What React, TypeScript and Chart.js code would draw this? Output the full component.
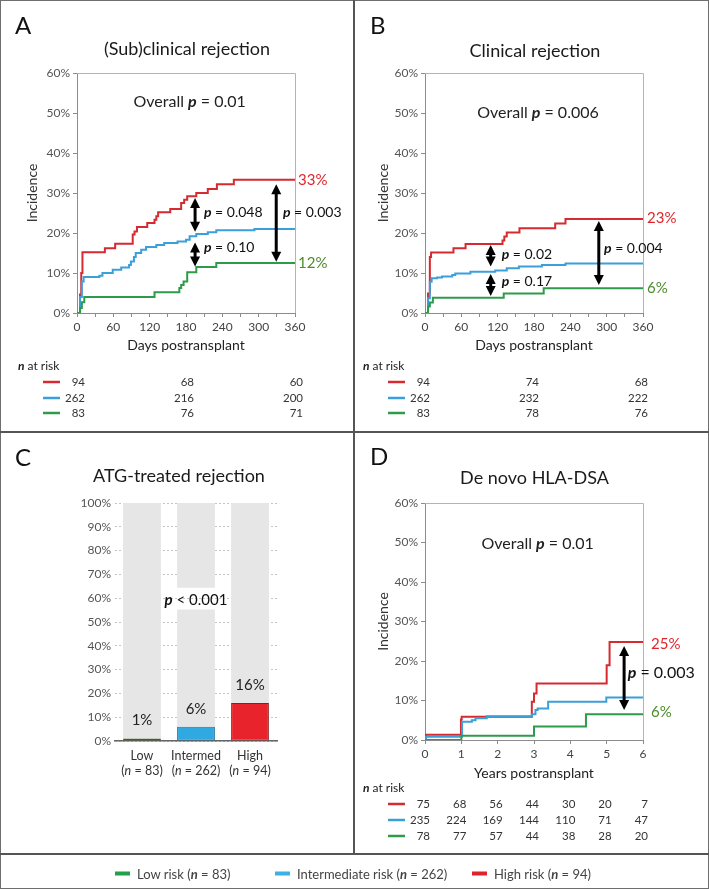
import React, { useEffect, useRef } from 'react';
import { Chart, registerables } from 'chart.js';

Chart.register(...registerables);

const FF = 'Lato, "Open Sans", "DejaVu Sans", sans-serif';

type Pt = [number, number];

// ---------- Panel A: (Sub)clinical rejection — [day, cumulative incidence %] ----------
const A_HIGH: Pt[] = [[0, 0], [3, 0], [5, 4.6], [7, 10], [9, 15.2], [46, 16.2], [63, 17.3], [92, 19.6], [95, 20.4], [99, 21.5], [116, 22.5], [128, 23.3], [131, 24.2], [134, 25.2], [154, 26], [172, 27.5], [177, 28.3], [182, 29.2], [197, 30], [216, 31], [231, 32.2], [259, 33.3], [360, 33.3]];
const A_INTER: Pt[] = [[0, 0], [3, 0], [5, 4], [8, 7.9], [11, 9], [37, 9.3], [42, 10], [59, 10.8], [73, 11.4], [86, 12], [89, 12.9], [94, 14], [97, 15], [106, 15.8], [114, 16.5], [131, 17], [144, 17.5], [166, 17.9], [180, 18.3], [186, 19.2], [197, 19.75], [216, 20.2], [230, 20.7], [293, 21], [360, 21]];
const A_LOW: Pt[] = [[0, 0], [3, 0], [5, 1.25], [8, 2.7], [12, 4], [128, 5.2], [169, 6.25], [172, 7], [176, 7.9], [182, 10.2], [197, 11.5], [230, 12.5], [360, 12.5]];
const A_RISK_DAYS = [0, 180, 360];
const A_RISK_HIGH = [94, 68, 60];
const A_RISK_INTER = [262, 216, 200];
const A_RISK_LOW = [83, 76, 71];

// ---------- Panel B: Clinical rejection ----------
const B_HIGH: Pt[] = [[0, 0], [3, 0], [5, 4.9], [8, 14], [10, 15.1], [47, 16.2], [67, 17.25], [128, 18.1], [131, 19.1], [135, 20.1], [156, 21.2], [215, 22.4], [232, 23.5], [360, 23.5]];
const B_INTER: Pt[] = [[0, 0], [3, 0], [5, 3.7], [8, 7.8], [11, 8.7], [20, 8.9], [28, 9.1], [45, 9.5], [50, 9.9], [75, 10.3], [116, 10.6], [135, 11.2], [155, 11.6], [193, 12], [232, 12.4], [360, 12.4]];
const B_LOW: Pt[] = [[0, 0], [3, 0], [5, 1.6], [8, 2.6], [13, 3.8], [130, 4.9], [196, 6.2], [360, 6.2]];
const B_RISK_DAYS = [0, 180, 360];
const B_RISK_HIGH = [94, 74, 68];
const B_RISK_INTER = [262, 232, 222];
const B_RISK_LOW = [83, 78, 76];

// ---------- Panel C: ATG-treated rejection (%) ----------
const C_GROUPS = ['Low', 'Intermed', 'High'];
const C_NS = [83, 262, 94];
const C_ATG = [1, 6, 16];
const C_REST_LOWER = [99, 49.3, 84];
const C_GAP = [0, 9.1, 0];
const C_REST_UPPER = [0, 35.6, 0];
const C_P_TEXT = ' < 0.001';

// ---------- Panel D: De novo HLA-DSA — [year, cumulative incidence %] ----------
const D_HIGH: Pt[] = [[0, 0], [0.02, 1.3], [0.99, 5.2], [1.01, 5.9], [2.94, 9.7], [3.0, 11.8], [3.07, 14.3], [5.0, 18.9], [5.08, 24.8], [6, 24.8]];
const D_INTER: Pt[] = [[0, 0], [0.03, 0.8], [1.02, 4.6], [1.29, 5], [1.39, 5.5], [1.7, 6], [2.94, 6.5], [3.04, 7.6], [3.1, 8], [3.39, 9.7], [4.99, 10.75], [6, 10.75]];
const D_LOW: Pt[] = [[0, 0], [1.0, 1.1], [3.0, 3.4], [4.43, 6.55], [6, 6.55]];
const D_RISK_YEARS = [0, 1, 2, 3, 4, 5, 6];
const D_RISK_HIGH = [75, 68, 56, 44, 30, 20, 7];
const D_RISK_INTER = [235, 224, 169, 144, 110, 71, 47];
const D_RISK_LOW = [78, 77, 57, 44, 38, 28, 20];

// ---------- Legend ----------
const LEGEND_LABELS = ['Low risk', 'Intermediate risk', 'High risk'];
const LEGEND_N = [83, 262, 94];

// ---------- Colours ----------
const RED = '#d62a31';
const BLUE = '#3b9fda';
const GREEN = '#2e9b4b';
const RED_TXT = '#e0262d';
const GREEN_TXT = '#4c8c2c';
const GREY_BAR = '#e6e6e6';
const C_FILL = ['#6c9a3f', '#2fa9e0', '#e8232b'];
const C_EDGE = ['#3d6124', '#1b6b94', '#8f1b1b'];
const LEG_COLORS = ['#22a04a', '#3cb1e6', '#e0232b'];

type Run = { t: string; f: string; c?: string };
const rg = (s: number) => `${s}px ${FF}`;
const it = (s: number, bold = true) => `${bold ? 'italic bold' : 'italic'} ${s}px ${FF}`;
const pRuns = (rest: string, size: number): Run[] => [{ t: 'p', f: it(size) }, { t: rest, f: rg(size) }];

function drawRuns(ctx: CanvasRenderingContext2D, runs: Run[], x: number, y: number, align: 'left' | 'center' | 'right', color: string) {
  ctx.save();
  ctx.textBaseline = 'middle';
  ctx.textAlign = 'left';
  let w = 0;
  for (const r of runs) { ctx.font = r.f; w += ctx.measureText(r.t).width; }
  let cx = align === 'left' ? x : align === 'center' ? x - w / 2 : x - w;
  for (const r of runs) {
    ctx.font = r.f;
    ctx.fillStyle = r.c || color;
    ctx.fillText(r.t, cx, y);
    cx += ctx.measureText(r.t).width;
  }
  ctx.restore();
}

function drawArrow(ctx: CanvasRenderingContext2D, x: number, top: number, bot: number) {
  const hw = 5, hh = 10;
  ctx.save();
  ctx.fillStyle = '#000';
  ctx.strokeStyle = '#000';
  ctx.lineWidth = 3;
  ctx.beginPath(); ctx.moveTo(x, top + hh - 1); ctx.lineTo(x, bot - hh + 1); ctx.stroke();
  ctx.beginPath(); ctx.moveTo(x, top); ctx.lineTo(x - hw, top + hh); ctx.lineTo(x + hw, top + hh); ctx.closePath(); ctx.fill();
  ctx.beginPath(); ctx.moveTo(x, bot); ctx.lineTo(x - hw, bot - hh); ctx.lineTo(x + hw, bot - hh); ctx.closePath(); ctx.fill();
  ctx.restore();
}

interface RiskRow { color: string; vals: number[] }
interface StepSpec {
  series: { pts: Pt[]; color: string }[];
  xMax: number; xStep: number; xLabelEvery: number; xTitle: string;
  yWidth: number; yTitleX: number;
  padTop: number; padRight: number; padBottom: number; xHeight: number; xTitleY: number;
  overall: { x: number; y: number; text: string };
  ends: { text: string; color: string; y: number }[]; endDx: number;
  arrows: { x: number; y1: number; y2: number }[];
  pLabels: { x: number; y: number; text: string }[]; pSize: number;
  riskTimes: number[]; riskRows: RiskRow[];
  riskTitleX: number; riskTitleDy: number; riskRowDy: number[]; riskLineX: [number, number]; riskDx: number;
}

function stepConfig(s: StepSpec): any {
  const tickFont = { family: FF, size: 12 };
  const titleFont = { family: FF, size: 14 };
  return {
    type: 'line',
    data: {
      datasets: s.series.map((se) => ({
        data: se.pts.map(([x, y]) => ({ x, y })),
        borderColor: se.color,
        backgroundColor: se.color,
        borderWidth: 2,
        stepped: 'before',
        pointRadius: 0,
        fill: false,
      })),
    },
    options: {
      animation: false,
      responsive: false,
      maintainAspectRatio: false,
      events: [],
      layout: { padding: { left: 0, top: s.padTop, right: s.padRight, bottom: s.padBottom } },
      plugins: { legend: { display: false }, tooltip: { enabled: false } },
      scales: {
        x: {
          type: 'linear', min: 0, max: s.xMax,
          afterFit: (sc: any) => { sc.height = s.xHeight; },
          ticks: {
            stepSize: s.xStep, autoSkip: false, maxRotation: 0, padding: 3, font: tickFont, color: '#444',
            callback: (v: number) => (Math.round(v) % s.xLabelEvery === 0 ? String(v) : ''),
          },
          grid: { drawOnChartArea: false, drawTicks: true, tickLength: 4, color: '#8c8c8c' },
          border: { display: true, color: '#8c8c8c', width: 1 },
          title: { display: true, text: s.xTitle, font: titleFont, color: '#222', padding: { top: 0, bottom: s.xHeight - s.xTitleY - 8.4 } },
        },
        y: {
          min: 0, max: 60,
          afterFit: (sc: any) => { sc.width = s.yWidth; },
          ticks: { stepSize: 10, padding: 3, font: tickFont, color: '#555', callback: (v: number) => `${v}%` },
          grid: { drawOnChartArea: false, drawTicks: true, tickLength: 4, color: '#8c8c8c' },
          border: { display: true, color: '#8c8c8c', width: 1 },
          title: { display: true, text: 'Incidence', font: titleFont, color: '#333', padding: { top: s.yTitleX - 8.4, bottom: 0 } },
        },
      },
    },
    plugins: [{
      id: 'annot',
      afterDraw(chart: any) {
        const { ctx, chartArea: ca } = chart;
        const x = chart.scales.x, y = chart.scales.y;
        ctx.save();
        ctx.strokeStyle = '#b4b4b4';
        ctx.lineWidth = 1;
        const t = Math.round(ca.top) + 0.5, r = Math.round(ca.right) + 0.5;
        ctx.beginPath(); ctx.moveTo(ca.left, t); ctx.lineTo(r, t); ctx.lineTo(r, ca.bottom); ctx.stroke();
        ctx.restore();
        drawRuns(ctx, [{ t: 'Overall ', f: rg(16) }, { t: 'p', f: it(16) }, { t: s.overall.text, f: rg(16) }],
          x.getPixelForValue(s.overall.x), y.getPixelForValue(s.overall.y), 'center', '#222');
        for (const e of s.ends) drawRuns(ctx, [{ t: e.text, f: rg(15) }], ca.right + s.endDx, y.getPixelForValue(e.y), 'left', e.color);
        for (const a of s.arrows) drawArrow(ctx, x.getPixelForValue(a.x), y.getPixelForValue(a.y1), y.getPixelForValue(a.y2));
        for (const p of s.pLabels) drawRuns(ctx, pRuns(p.text, s.pSize), x.getPixelForValue(p.x), y.getPixelForValue(p.y), 'left', '#111');
        drawRuns(ctx, [{ t: 'n', f: it(12) }, { t: ' at risk', f: rg(12) }], s.riskTitleX, ca.bottom + s.riskTitleDy, 'left', '#222');
        s.riskRows.forEach((row, i) => {
          const yy = ca.bottom + s.riskRowDy[i];
          ctx.save();
          ctx.strokeStyle = row.color; ctx.lineWidth = 2.5;
          ctx.beginPath(); ctx.moveTo(s.riskLineX[0], yy); ctx.lineTo(s.riskLineX[1], yy); ctx.stroke();
          ctx.restore();
          row.vals.forEach((v, j) => drawRuns(ctx, [{ t: String(v), f: rg(11.5) }], x.getPixelForValue(s.riskTimes[j]) + s.riskDx, yy, 'right', '#333'));
        });
      },
    }],
  };
}

const specA: StepSpec = {
  series: [{ pts: A_LOW, color: GREEN }, { pts: A_INTER, color: BLUE }, { pts: A_HIGH, color: RED }],
  xMax: 360, xStep: 30, xLabelEvery: 60, xTitle: 'Days postransplant',
  yWidth: 77, yTitleX: 32.5, padTop: 73, padRight: 58, padBottom: 58, xHeight: 60, xTitleY: 32,
  overall: { x: 186, y: 52.75, text: ' = 0.01' },
  ends: [{ text: '33%', color: RED_TXT, y: 33.3 }, { text: '12%', color: GREEN_TXT, y: 12.5 }], endDx: 3,
  arrows: [{ x: 195, y1: 28.75, y2: 20.3 }, { x: 195, y1: 17.6, y2: 11.6 }, { x: 329, y1: 32.2, y2: 12.8 }],
  pLabels: [{ x: 209.7, y: 25.1, text: ' = 0.048' }, { x: 209.7, y: 16.3, text: ' = 0.10' }, { x: 340, y: 25.1, text: ' = 0.003' }], pSize: 14,
  riskTimes: A_RISK_DAYS,
  riskRows: [{ color: RED, vals: A_RISK_HIGH }, { color: BLUE, vals: A_RISK_INTER }, { color: GREEN, vals: A_RISK_LOW }],
  riskTitleX: 18, riskTitleDy: 53, riskRowDy: [69, 85, 100], riskLineX: [43, 60], riskDx: 8,
};

const specB: StepSpec = {
  series: [{ pts: B_LOW, color: GREEN }, { pts: B_INTER, color: BLUE }, { pts: B_HIGH, color: RED }],
  xMax: 360, xStep: 30, xLabelEvery: 60, xTitle: 'Days postransplant',
  yWidth: 70, yTitleX: 28, padTop: 73, padRight: 64, padBottom: 58, xHeight: 60, xTitleY: 32,
  overall: { x: 186.6, y: 50, text: ' = 0.006' },
  ends: [{ text: '23%', color: RED_TXT, y: 23.75 }, { text: '6%', color: GREEN_TXT, y: 6.25 }], endDx: 4,
  arrows: [{ x: 108.5, y1: 17, y2: 11.6 }, { x: 108.5, y1: 9.75, y2: 4.25 }, { x: 287, y1: 23, y2: 7 }],
  pLabels: [{ x: 126.6, y: 14.75, text: ' = 0.02' }, { x: 126.6, y: 7.8, text: ' = 0.17' }, { x: 295.6, y: 16.25, text: ' = 0.004' }], pSize: 14,
  riskTimes: B_RISK_DAYS,
  riskRows: [{ color: RED, vals: B_RISK_HIGH }, { color: BLUE, vals: B_RISK_INTER }, { color: GREEN, vals: B_RISK_LOW }],
  riskTitleX: 8, riskTitleDy: 53, riskRowDy: [69, 85, 100], riskLineX: [33, 50], riskDx: 5,
};

const specD: StepSpec = {
  series: [{ pts: D_LOW, color: GREEN }, { pts: D_INTER, color: BLUE }, { pts: D_HIGH, color: RED }],
  xMax: 6, xStep: 1, xLabelEvery: 1, xTitle: 'Years postransplant',
  yWidth: 70, yTitleX: 28, padTop: 71, padRight: 64, padBottom: 53, xHeight: 60, xTitleY: 33,
  overall: { x: 3.1, y: 49.7, text: ' = 0.01' },
  ends: [{ text: '25%', color: RED_TXT, y: 24.2 }, { text: '6%', color: GREEN_TXT, y: 7.1 }], endDx: 8,
  arrows: [{ x: 5.48, y1: 23.8, y2: 7.6 }],
  pLabels: [{ x: 5.58, y: 17.1, text: ' = 0.003' }], pSize: 16,
  riskTimes: D_RISK_YEARS,
  riskRows: [{ color: RED, vals: D_RISK_HIGH }, { color: BLUE, vals: D_RISK_INTER }, { color: GREEN, vals: D_RISK_LOW }],
  riskTitleX: 8, riskTitleDy: 48, riskRowDy: [64, 80, 96], riskLineX: [33, 50], riskDx: 5,
};

function barConfig(): any {
  const tickFont = { family: FF, size: 12 };
  return {
    type: 'bar',
    data: {
      labels: C_GROUPS,
      datasets: [
        { data: C_ATG, backgroundColor: C_FILL, borderColor: C_EDGE, borderWidth: 1, borderSkipped: false },
        { data: C_REST_LOWER, backgroundColor: GREY_BAR, borderWidth: 0 },
        { data: C_GAP, backgroundColor: 'rgba(0,0,0,0)', borderWidth: 0 },
        { data: C_REST_UPPER, backgroundColor: GREY_BAR, borderWidth: 0 },
      ],
    },
    options: {
      animation: false,
      responsive: false,
      maintainAspectRatio: false,
      events: [],
      datasets: { bar: { barPercentage: 0.7, categoryPercentage: 1 } },
      layout: { padding: { left: 0, top: 71, right: 76, bottom: 72 } },
      plugins: { legend: { display: false }, tooltip: { enabled: false } },
      scales: {
        x: {
          stacked: true,
          afterFit: (sc: any) => { sc.height = 40; },
          ticks: { display: false },
          grid: { display: false },
          border: { display: true, color: '#666', width: 1.5 },
        },
        y: {
          stacked: true, min: 0, max: 100,
          afterFit: (sc: any) => { sc.width = 115; },
          ticks: { stepSize: 10, padding: 4, font: tickFont, color: '#555', callback: (v: number) => `${v}%` },
          grid: { drawTicks: false, color: '#c4c4c4', lineWidth: 1 },
          border: { display: false, dash: [2, 2] },
        },
      },
    },
    plugins: [{
      id: 'cannot',
      afterDraw(chart: any) {
        const { ctx, chartArea: ca } = chart;
        const x = chart.scales.x, y = chart.scales.y;
        C_ATG.forEach((v, i) => drawRuns(ctx, [{ t: `${v}%`, f: rg(15) }], x.getPixelForValue(i), y.getPixelForValue(v) - 18, 'center', '#222'));
        drawRuns(ctx, pRuns(C_P_TEXT, 15), x.getPixelForValue(1), y.getPixelForValue(59.2), 'center', '#111');
        C_GROUPS.forEach((g, i) => {
          const cx = x.getPixelForValue(i);
          drawRuns(ctx, [{ t: g, f: rg(12.5) }], cx, ca.bottom + 15, 'center', '#333');
          drawRuns(ctx, [{ t: '(', f: rg(12.5) }, { t: 'n', f: it(12.5, false) }, { t: ` = ${C_NS[i]})`, f: rg(12.5) }], cx, ca.bottom + 30, 'center', '#333');
        });
      },
    }],
  };
}

function ChartCanvas({ left, top, width, height, make }: { left: number; top: number; width: number; height: number; make: () => any }) {
  const ref = useRef<HTMLCanvasElement>(null);
  useEffect(() => {
    const c = new Chart(ref.current as HTMLCanvasElement, make());
    return () => c.destroy();
  }, []);
  return <canvas ref={ref} width={width} height={height} style={{ position: 'absolute', left, top, width, height, display: 'block' }} />;
}

function Txt({ x, y, size, children, center = true, color = '#1a1a1a' }: any) {
  return (
    <div style={{
      position: 'absolute', left: x, top: y, fontSize: size, lineHeight: 1, whiteSpace: 'nowrap', color,
      transform: center ? 'translate(-50%,-50%)' : 'translate(0,-50%)', fontFamily: FF,
    }}>{children}</div>
  );
}

const LEG_X = [115, 275, 472];

export default function App() {
  return (
    <div style={{ position: 'absolute', left: 0, top: 0, width: 709, height: 890, background: '#fff', fontFamily: FF, overflow: 'hidden' }}>
      <ChartCanvas left={0} top={0} width={353} height={431} make={() => stepConfig(specA)} />
      <ChartCanvas left={355} top={0} width={352} height={431} make={() => stepConfig(specB)} />
      <ChartCanvas left={0} top={432} width={353} height={421} make={barConfig} />
      <ChartCanvas left={355} top={432} width={352} height={421} make={() => stepConfig(specD)} />

      {/* frame */}
      <div style={{ position: 'absolute', left: 0, top: 0, width: 709, height: 889, boxSizing: 'border-box', border: '1.5px solid #6e6e6e' }} />
      <div style={{ position: 'absolute', left: 353, top: 0, width: 1.5, height: 854, background: '#555' }} />
      <div style={{ position: 'absolute', left: 0, top: 431, width: 709, height: 1.5, background: '#555' }} />
      <div style={{ position: 'absolute', left: 0, top: 853, width: 709, height: 1.5, background: '#555' }} />

      {/* letters & titles */}
      <Txt x={15} y={25} size={24} center={false} color="#111">A</Txt>
      <Txt x={370} y={25} size={24} center={false} color="#111">B</Txt>
      <Txt x={15} y={457} size={24} center={false} color="#111">C</Txt>
      <Txt x={370} y={456} size={24} center={false} color="#111">D</Txt>
      <Txt x={187} y={48} size={18}>(Sub)clinical rejection</Txt>
      <Txt x={535} y={50} size={18}>Clinical rejection</Txt>
      <Txt x={179} y={475} size={18}>ATG-treated rejection</Txt>
      <Txt x={534.5} y={477} size={18}>De novo HLA-DSA</Txt>

      {/* legend */}
      {LEGEND_LABELS.map((lab, i) => (
        <div key={lab} style={{ position: 'absolute', left: LEG_X[i], top: 873.5, transform: 'translateY(-50%)', display: 'flex', alignItems: 'center', fontSize: 13, lineHeight: 1, color: '#444', whiteSpace: 'nowrap' }}>
          <span style={{ display: 'inline-block', width: 15, height: 4, background: LEG_COLORS[i], marginRight: 7 }} />
          <span>{lab} (<i style={{ fontWeight: 700 }}>n</i> = {LEGEND_N[i]})</span>
        </div>
      ))}
    </div>
  );
}
